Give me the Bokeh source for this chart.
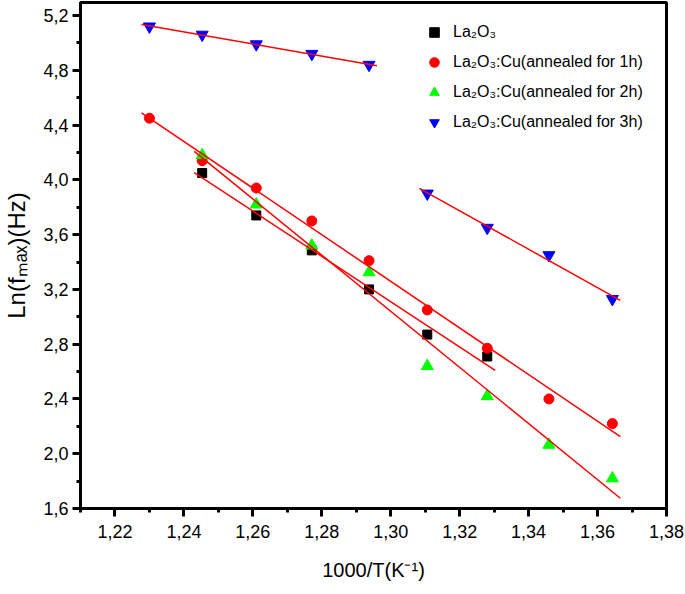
import numpy as np
from bokeh.plotting import figure
from bokeh.models import Range1d, FixedTicker, Legend, LegendItem
from bokeh.embed import file_html
from bokeh.resources import INLINE

# ---- data (1000/T in K^-1, Ln(f_max) in Hz) ----
x_la2o3 = [1.2453, 1.2610, 1.2771, 1.2937, 1.3106, 1.3280]
y_la2o3 = [4.05, 3.74, 3.485, 3.20, 2.87, 2.71]

x_cu1h = [1.2300, 1.2453, 1.2610, 1.2771, 1.2937, 1.3106, 1.3280, 1.3459, 1.3643]
y_cu1h = [4.45, 4.14, 3.94, 3.70, 3.41, 3.05, 2.77, 2.40, 2.22]

x_cu2h = [1.2453, 1.2610, 1.2771, 1.2937, 1.3106, 1.3280, 1.3459, 1.3643]
y_cu2h = [4.18, 3.82, 3.52, 3.325, 2.64, 2.42, 2.065, 1.82]

x_cu3h = [1.2300, 1.2453, 1.2610, 1.2771, 1.2937, 1.3106, 1.3280, 1.3459, 1.3643]
y_cu3h = [5.12, 5.06, 4.99, 4.92, 4.84, 3.90, 3.65, 3.45, 3.13]
cu3h_split = 5  # two linear regions for the 3h sample

labels = ["La₂O₃", "La₂O₃:Cu(annealed for 1h)",
          "La₂O₃:Cu(annealed for 2h)", "La₂O₃:Cu(annealed for 3h)"]

x_ticks = [1.22, 1.24, 1.26, 1.28, 1.30, 1.32, 1.34, 1.36, 1.38]
x_tick_labels = ["1,22", "1,24", "1,26", "1,28", "1,30", "1,32", "1,34", "1,36", "1,38"]
y_ticks = [1.6, 2.0, 2.4, 2.8, 3.2, 3.6, 4.0, 4.4, 4.8, 5.2]
y_tick_labels = ["1,6", "2,0", "2,4", "2,8", "3,2", "3,6", "4,0", "4,4", "4,8", "5,2"]

FONT = "Liberation Sans"

p = figure(width=684, height=593,
           x_range=Range1d(1.21, 1.38), y_range=Range1d(1.6, 5.295),
           output_backend="svg", toolbar_location=None,
           min_border_left=75, min_border_right=18,
           min_border_top=2, min_border_bottom=85)
p.xgrid.visible = False
p.ygrid.visible = False
p.outline_line_color = "black"
p.outline_line_width = 3
p.outline_line_alpha = 1.0
p.background_fill_color = "white"
p.border_fill_color = "white"

x_minor = [1.21] + [round((a + b) / 2, 4) for a, b in zip(x_ticks[:-1], x_ticks[1:])]
y_minor = [round((a + b) / 2, 4) for a, b in zip(y_ticks[:-1], y_ticks[1:])]
p.xaxis.ticker = FixedTicker(ticks=x_ticks, minor_ticks=x_minor)
p.yaxis.ticker = FixedTicker(ticks=y_ticks, minor_ticks=y_minor)
p.xaxis.major_label_overrides = dict(zip(x_ticks, x_tick_labels))
p.yaxis.major_label_overrides = dict(zip(y_ticks, y_tick_labels))

for ax in (p.xaxis, p.yaxis):
    ax.axis_line_width = 3
    ax.axis_line_color = "black"
    ax.major_tick_line_width = 3
    ax.minor_tick_line_width = 3
    ax.major_tick_line_color = "black"
    ax.minor_tick_line_color = "black"
    ax.major_tick_in = 0
    ax.major_tick_out = 8
    ax.minor_tick_in = 0
    ax.minor_tick_out = 4
    ax.major_label_text_font = FONT
    ax.major_label_text_font_size = "18px"
    ax.major_label_text_color = "black"
    ax.axis_label_text_font = FONT
    ax.axis_label_text_font_style = "normal"
    ax.axis_label_text_color = "black"

p.xaxis.major_label_standoff = 8
p.yaxis.major_label_standoff = 4
p.xaxis.axis_label = "1000/T(K⁻¹)"
p.xaxis.axis_label_text_font_size = "20px"
p.xaxis.axis_label_standoff = 18
p.yaxis.axis_label = "Ln(fₘₐₓ)(Hz)"
p.yaxis.axis_label_text_font_size = "24px"
p.yaxis.axis_label_standoff = 10

r0 = p.scatter(x_la2o3, y_la2o3, marker="square", size=9,
               fill_color="black", line_color="black")
r1 = p.scatter(x_cu1h, y_cu1h, marker="circle", size=10,
               fill_color="#FF0000", line_color="#FF0000")
r2 = p.scatter(x_cu2h, y_cu2h, marker="triangle", size=12,
               fill_color="#00FF00", line_color="#00FF00")
r3 = p.scatter(x_cu3h, y_cu3h, marker="inverted_triangle", size=12,
               fill_color="#0000FF", line_color="#0000FF")

# linear fits
ext = 0.0023
groups = [(x_la2o3, y_la2o3), (x_cu1h, y_cu1h), (x_cu2h, y_cu2h),
          (x_cu3h[:cu3h_split], y_cu3h[:cu3h_split]),
          (x_cu3h[cu3h_split:], y_cu3h[cu3h_split:])]
for gx, gy in groups:
    k, b = np.polyfit(gx, gy, 1)
    xs = [min(gx) - ext, max(gx) + ext]
    ys = [k * v + b for v in xs]
    p.line(xs, ys, line_color="#FF0000", line_width=1.5)

legend = Legend(items=[LegendItem(label=labels[0], renderers=[r0]),
                       LegendItem(label=labels[1], renderers=[r1]),
                       LegendItem(label=labels[2], renderers=[r2]),
                       LegendItem(label=labels[3], renderers=[r3])],
                location=(342, 374), border_line_color=None,
                background_fill_alpha=0, padding=0, margin=0, spacing=6,
                glyph_width=24, glyph_height=24, label_height=24,
                label_standoff=7, label_text_font=FONT,
                label_text_font_size="16px", label_text_color="black")
p.add_layout(legend)

open("out.html", "w").write(file_html(p, INLINE))
